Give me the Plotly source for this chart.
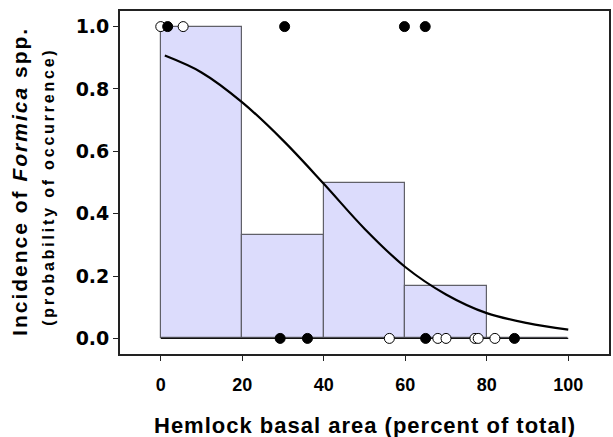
import plotly.graph_objects as go

# Histogram bins (proportion of occupied plots per 20% class)
bin_left = [0, 20, 40, 60, 80]
bin_prop = [1.0, 0.333, 0.5, 0.167, 0.0]

# Observations: occupied (y=1) and unoccupied (y=0)
open_x = [0.0, 5.5, 56.1, 68.0, 70.0, 77.1, 77.9, 82.0]
open_y = [1, 1, 0, 0, 0, 0, 0, 0]
filled_x = [1.7, 30.4, 59.8, 64.9, 29.3, 36.0, 65.0, 86.8]
filled_y = [1, 1, 1, 1, 0, 0, 0, 0]

# Fitted logistic curve
curve_x = [1, 10, 20, 30, 40, 50, 60, 70, 80, 90, 100]
curve_y = [0.907, 0.853, 0.757, 0.635, 0.496, 0.352, 0.229, 0.141, 0.081, 0.049, 0.028]

x_ticks = [0, 20, 40, 60, 80, 100]
y_ticks = [0.0, 0.2, 0.4, 0.6, 0.8, 1.0]

fig = go.Figure()

fig.add_trace(go.Scatter(x=[0, 100], y=[0, 0], mode="lines",
                         line=dict(color="#111111", width=1.3),
                         hoverinfo="skip", showlegend=False))

fig.add_trace(go.Bar(x=bin_left, y=bin_prop, offset=0, width=[20] * len(bin_left),
                     marker=dict(color="#dcdcfc", line=dict(color="#606068", width=1.2)),
                     showlegend=False))

fig.add_trace(go.Scatter(x=curve_x, y=curve_y, mode="lines",
                         line=dict(color="black", width=2.2, shape="spline", smoothing=1.0),
                         showlegend=False))

fig.add_trace(go.Scatter(x=open_x, y=open_y, mode="markers",
                         marker=dict(size=10, color="white", line=dict(color="black", width=1)),
                         showlegend=False))
fig.add_trace(go.Scatter(x=filled_x, y=filled_y, mode="markers",
                         marker=dict(size=10, color="black", line=dict(color="black", width=1)),
                         showlegend=False))

fig.update_layout(
    width=613, height=437,
    margin=dict(l=120, r=2, t=11, b=83),
    paper_bgcolor="white", plot_bgcolor="white",
    bargap=0,
    font=dict(family="Liberation Sans, Arial, sans-serif", color="black"),
)

fig.update_xaxes(
    range=[-10, 110], tickvals=x_ticks, ticks="outside", ticklen=5, tickwidth=1.2,
    tickcolor="#222", showline=True, mirror=True, linecolor="#222", linewidth=1.8,
    showgrid=False, zeroline=False, ticklabelstandoff=8,
    tickfont=dict(family="Liberation Sans, Arial", size=18, weight="bold", color="black"),
)
fig.update_yaxes(
    range=[-0.05, 1.05], tickvals=y_ticks, tickformat=".1f", ticks="outside", ticklen=5,
    tickwidth=1.2, tickcolor="#222", showline=True, mirror=True, linecolor="#222",
    linewidth=1.8, showgrid=False, zeroline=False,
    tickfont=dict(family="DejaVu Sans", size=19, weight="bold", color="black"),
)

fig.add_annotation(
    text="<span style='letter-spacing:1px'>Hemlock basal area (percent of total)</span>",
    xref="paper", yref="paper", x=0.5, y=-0.207, xanchor="center", yanchor="middle",
    showarrow=False, font=dict(size=22, weight="bold", color="black"),
)
fig.add_annotation(
    text="<span style='letter-spacing:2px'>Incidence of <i>Formica</i> spp.</span>",
    xref="paper", yref="paper", x=(19 - 120) / 491, y=0.5 + (182.5 - 181.5) / 343,
    xanchor="center", yanchor="middle", textangle=-90,
    showarrow=False, font=dict(size=21, weight="bold", color="black"),
)
fig.add_annotation(
    text="<span style='letter-spacing:2.8px'>(probability of occurrence)</span>",
    xref="paper", yref="paper", x=(48 - 120) / 491, y=0.5 + (182.5 - 186.5) / 343,
    xanchor="center", yanchor="middle", textangle=-90,
    showarrow=False, font=dict(size=16, weight="bold", color="black"),
)

fig.write_html("out.html")
